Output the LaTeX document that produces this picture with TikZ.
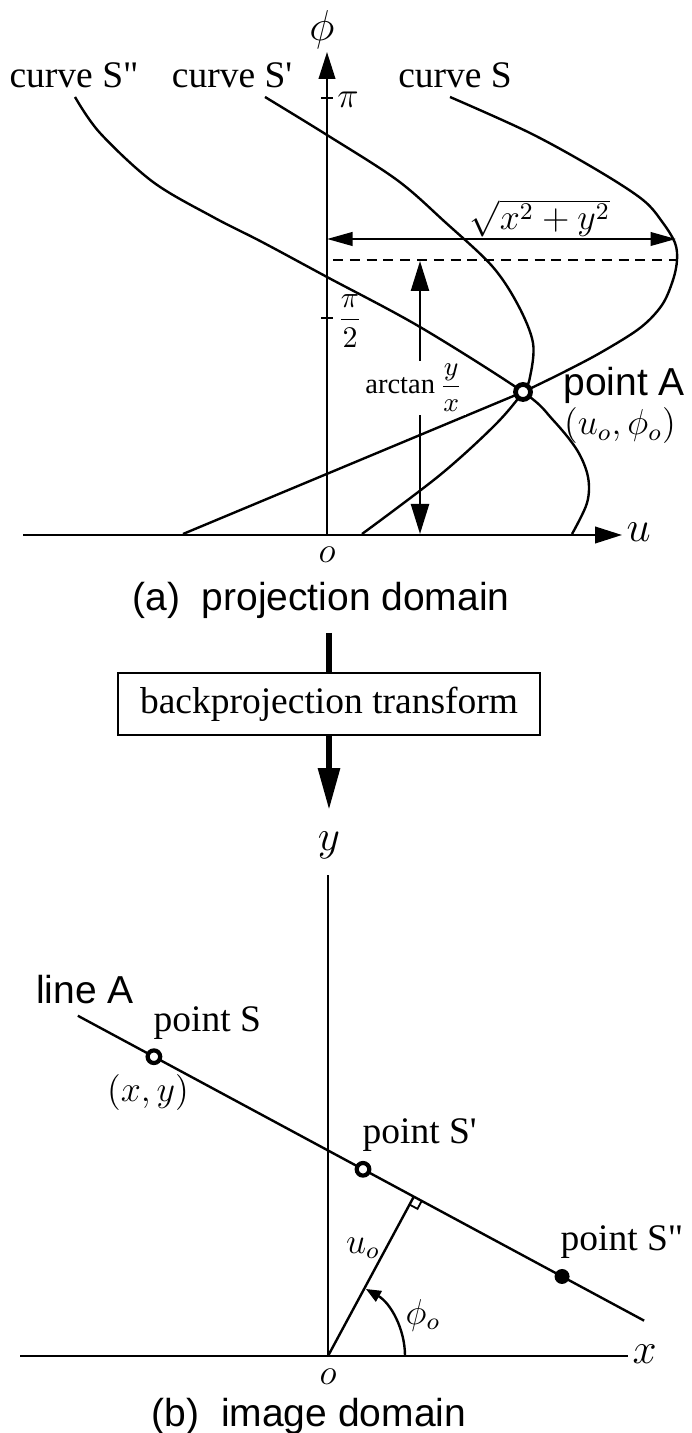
\documentclass[tikz,border=0pt]{standalone}
\usepackage{fontspec}
\setmainfont{Liberation Serif}
\setsansfont{Liberation Sans}
\usetikzlibrary{arrows.meta,calc}
\begin{document}
\begin{tikzpicture}[x=0.33333pt,y=-0.33333pt,
  ln/.style={line width=0.8pt},
  serif/.style={font=\fontsize{12.5}{15}\selectfont, inner sep=0pt},
  sanslbl/.style={font=\sffamily\fontsize{13}{15}\selectfont, inner sep=0pt},
  mth/.style={font=\fontsize{12}{15}\selectfont, inner sep=0pt},
  axlbl/.style={font=\fontsize{14}{16}\selectfont, inner sep=0pt},
  axtip/.style={-{Triangle[length=9pt,width=5.5pt]}},
  dimtip/.style={{Triangle[length=8.5pt,width=4.5pt]}-{Triangle[length=8.5pt,width=4.5pt]}},
  atip/.style={-{Triangle[length=10pt,width=6pt]}},
  ring/.style={circle, draw, line width=1.4pt, fill=white, minimum size=4.2pt, inner sep=0pt},
  dot/.style={circle, fill=black, minimum size=5pt, inner sep=0pt},
  boxst/.style={draw, line width=0.7pt, minimum width=140.7pt, minimum height=20.7pt, inner sep=0pt, font=\fontsize{12.5}{15}\selectfont},
]
\useasboundingbox (0,0) rectangle (691,1433);

% ---------- (a) projection domain ----------
\coordinate (phibot) at (327,535);
\coordinate (phitop) at (327,52);
\coordinate (uleft) at (23,535);
\coordinate (uright) at (622,535);
\draw[ln,axtip] (phibot) -- (phitop);
\draw[ln,axtip] (uleft) -- (uright);
\node[axlbl] (philbl) at (322,30) {$\phi$};
\node[axlbl,anchor=west] (ulbl) at (626,532) {$u$};
\node[mth] (o1) at (327,555) {$o$};

\coordinate (t1a) at (321,98); \coordinate (t1b) at (333,98);
\draw[ln] (t1a) -- (t1b);
\node[mth] (pilbl) at (348,100) {$\pi$};
\coordinate (t2a) at (321,318); \coordinate (t2b) at (333,318);
\draw[ln] (t2a) -- (t2b);
\node[font=\fontsize{10}{12}\selectfont, inner sep=0pt] (pihalf) at (350,321) {$\displaystyle\frac{\pi}{2}$};

\node[serif,anchor=base] (cS2) at (74,88) {curve S\textquotedbl};
\node[serif,anchor=base] (cS1) at (232,88) {curve S\textquotesingle};
\node[serif,anchor=base] (cS0) at (455,88) {curve S};

% curve S''
\draw[ln] plot[smooth,tension=0.55] coordinates {(75,97) (100,133) (153,182) (213,217) (262,242) (327,277) (420,327) (523,392) (553,420) (577,450) (588,477) (587,503) (572,534)};
% curve S'
\draw[ln] plot[smooth,tension=0.55] coordinates {(265,97) (327,135) (397,180) (445,222) (492,266) (518,305) (533,343) (530,377) (523,392) (495,425) (440,475) (362,534)};
% curve S
\draw[ln] plot[smooth,tension=0.55] coordinates {(450,97) (530,133) (597,170) (643,200) (663,223) (675,243) (677,260) (673,280) (662,305) (640,328) (600,353) (560,374) (523,392)} -- (183,534);

% sqrt dimension
\coordinate (dL) at (327,239);
\coordinate (dR) at (676,239);
\draw[ln,dimtip] (dL) -- (dR);
\node[mth] (sq) at (540,218) {$\sqrt{x^2+y^2}$};

% dashed
\coordinate (dsL) at (333,260);
\coordinate (dsR) at (677,260);
\draw[ln,dash pattern=on 3.3pt off 2.3pt] (dsL) -- (dsR);

% arctan
\node[font=\fontsize{9.5}{11}\selectfont, fill=white, inner sep=1pt] (atan) at (414,388) {$\displaystyle\arctan\frac{y}{x}$};
\coordinate (atTop) at (420,261);
\coordinate (atBot) at (420,534);
\draw[ln,atip] (atan.north -| atTop) -- (atTop);
\draw[ln,atip] (atan.south -| atBot) -- (atBot);

% point A
\node[ring,minimum size=5pt,line width=1.6pt] (A) at (523,392) {};
\node[sanslbl,anchor=base west] (Albl) at (563,396) {point A};
\node[mth] (Acoord) at (620,426) {$(u_o,\phi_o)$};

\node[sanslbl] (capa) at (321,600) {(a)\ \ projection domain};

% ---------- transform ----------
\node[boxst] (box) at (329,704) {backprojection transform};
\coordinate (arrtop) at (329,633);
\coordinate (arrtip) at (329,810);
\draw[line width=2pt] (arrtop) -- (box.north);
\draw[line width=2pt,-{Triangle[length=14pt,width=7pt]}] (box.south) -- (arrtip);

% ---------- (b) image domain ----------
\coordinate (O) at (328,1356);
\coordinate (ytop) at (328,875);
\coordinate (xleft) at (20,1356);
\coordinate (xright) at (628,1356);
\draw[ln] (ytop) -- (O);
\draw[ln] (xleft) -- (xright);
\node[axlbl] (ylbl) at (329,845) {$y$};
\node[axlbl,anchor=west] (xlbl) at (632,1354) {$x$};
\node[mth] (o2) at (328,1377) {$o$};

\coordinate (F) at ($(O)+(-61.7:181)$);
\coordinate (L1) at ($(F)+(208.3:381.6)$);
\coordinate (L2) at ($(F)+(28.3:261.6)$);
\draw[ln] (L1) -- (L2);
\draw[ln] (O) -- (F);
\draw[line width=0.6pt] ($(F)+(28.3:9)$) -- ($(F)+(28.3:9)+(118.3:9)$) -- ($(F)+(118.3:9)$);

\node[ring] (pS) at ($(F)+(208.3:295.2)$) {};
\node[ring] (pS1) at ($(F)+(208.3:57.7)$) {};
\node[dot] (pS2) at ($(F)+(28.3:168.4)$) {};

\draw[ln,-{Triangle[length=5pt,width=4pt]}] ($(O)+(77,0)$) arc[start angle=0, end angle=-60.5, radius=77];

\node[sanslbl] (lineA) at (85,990) {line A};
\node[serif,anchor=base west] (pSl) at (153,1031) {point S};
\node[mth] (xy) at (148,1092) {$(x,y)$};
\node[serif,anchor=base west] (pS1l) at (362,1143) {point S\textquotesingle};
\node[serif,anchor=base west] (pS2l) at (560,1250) {point S\textquotedbl};
\node[mth] (u0) at (363,1248) {$u_o$};
\node[mth] (phi0) at (423,1315) {$\phi_o$};

\node[sanslbl] (capb) at (309,1416) {(b)\ \ image domain};
\end{tikzpicture}
\end{document}
